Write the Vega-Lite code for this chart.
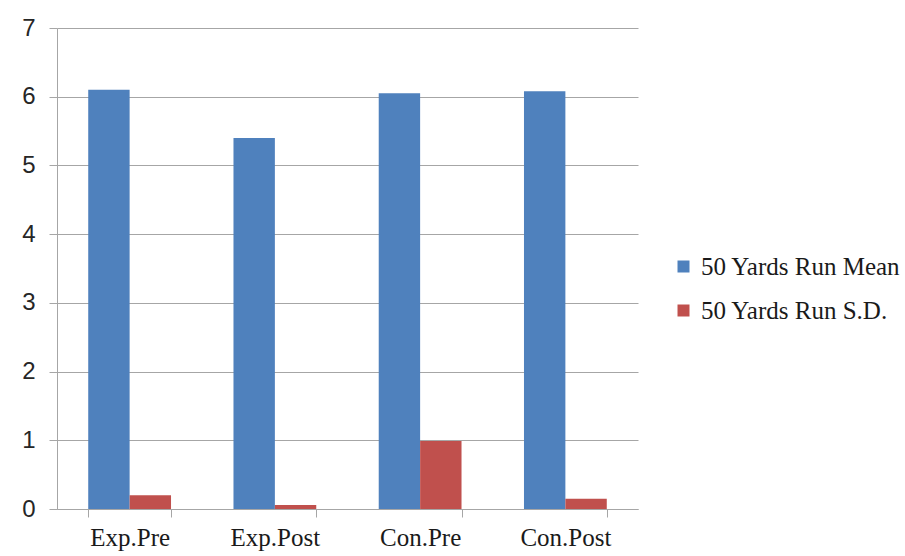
{
  "$schema": "https://vega.github.io/schema/vega-lite/v6.json",
  "autosize": {"type": "none"},
  "padding": {"left": 57, "top": 28, "right": 267, "bottom": 47},
  "width": 581,
  "height": 481,
  "background": "white",
  "data": {
    "values": [
      {"group": "Exp.Pre", "series": "50 Yards Run Mean", "value": 6.1},
      {"group": "Exp.Pre", "series": "50 Yards Run S.D.", "value": 0.2},
      {"group": "Exp.Post", "series": "50 Yards Run Mean", "value": 5.4},
      {"group": "Exp.Post", "series": "50 Yards Run S.D.", "value": 0.06},
      {"group": "Con.Pre", "series": "50 Yards Run Mean", "value": 6.05},
      {"group": "Con.Pre", "series": "50 Yards Run S.D.", "value": 0.99},
      {"group": "Con.Post", "series": "50 Yards Run Mean", "value": 6.08},
      {"group": "Con.Post", "series": "50 Yards Run S.D.", "value": 0.15}
    ]
  },
  "mark": {"type": "bar"},
  "encoding": {
    "x": {
      "field": "group",
      "type": "nominal",
      "sort": ["Exp.Pre", "Exp.Post", "Con.Pre", "Con.Post"],
      "scale": {"paddingInner": 0.43, "paddingOuter": 0.215},
      "axis": {
        "title": null,
        "labelAngle": 0,
        "labelFont": "Liberation Serif",
        "labelFontSize": 25,
        "labelColor": "#1a1a1a",
        "labelPadding": 8,
        "tickBand": "extent",
        "tickSize": 8,
        "tickColor": "#A6A6A6",
        "domainColor": "#A6A6A6",
        "grid": false
      }
    },
    "xOffset": {"field": "series", "type": "nominal"},
    "y": {
      "field": "value",
      "type": "quantitative",
      "scale": {"domain": [0, 7], "nice": false},
      "axis": {
        "title": null,
        "values": [0, 1, 2, 3, 4, 5, 6, 7],
        "labelFont": "Liberation Sans",
        "labelFontSize": 24,
        "labelColor": "#262626",
        "labelPadding": 14,
        "tickSize": 8,
        "tickColor": "#A6A6A6",
        "domainColor": "#A6A6A6",
        "gridColor": "#A6A6A6",
        "grid": true
      }
    },
    "color": {
      "field": "series",
      "type": "nominal",
      "scale": {"domain": ["50 Yards Run Mean", "50 Yards Run S.D."], "range": ["#4F81BD", "#C0504D"]},
      "legend": {
        "title": null,
        "orient": "none",
        "legendX": 614,
        "legendY": 226,
        "padding": 0,
        "symbolType": "square",
        "symbolSize": 144,
        "symbolStrokeWidth": 0,
        "labelFont": "Liberation Serif",
        "labelFontSize": 25,
        "labelColor": "#1a1a1a",
        "labelOffset": 5,
        "rowPadding": 18,
        "labelLimit": 400
      }
    }
  },
  "config": {
    "view": {"stroke": null}
  }
}
